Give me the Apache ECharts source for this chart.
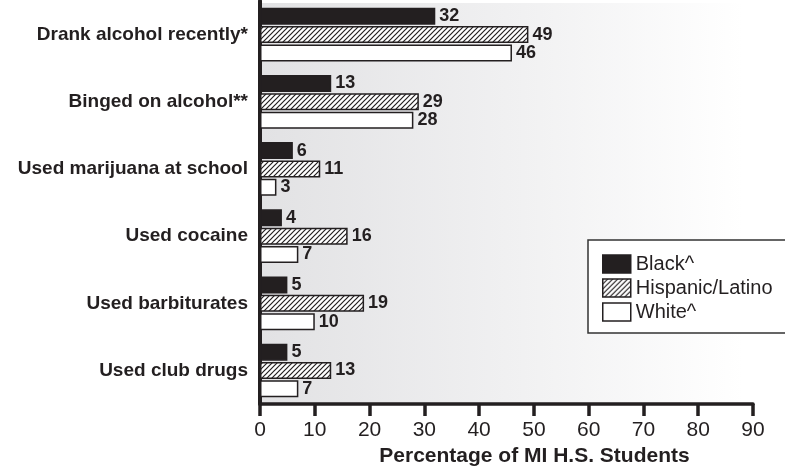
<!DOCTYPE html>
<html>
<head>
<meta charset="utf-8">
<script src="https://cdn.jsdelivr.net/npm/echarts@6/dist/echarts.min.js"></script>
<style>html,body{margin:0;padding:0;background:#fff}#c{width:785px;height:472px}</style>
</head>
<body>
<div id="c"></div>
<script>
const categories = ['Drank alcohol recently*', 'Binged on alcohol**', 'Used marijuana at school', 'Used cocaine', 'Used barbiturates', 'Used club drugs'];
const seriesNames = ['Black^', 'Hispanic/Latino', 'White^'];
const black = [32, 13, 6, 4, 5, 5];
const hispanic = [49, 29, 11, 16, 19, 13];
const white = [46, 28, 3, 7, 10, 7];
const xTicks = [0, 10, 20, 30, 40, 50, 60, 70, 80, 90];

const FONT = '"Liberation Sans", Arial, sans-serif';
const INK = '#231f20';

function hatch() {
  const s = 5;
  const c = document.createElement('canvas');
  c.width = s; c.height = s;
  const g = c.getContext('2d');
  g.fillStyle = '#fff';
  g.fillRect(0, 0, s, s);
  g.strokeStyle = '#231f20';
  g.lineWidth = 1.2;
  g.beginPath();
  g.moveTo(-1, s + 1); g.lineTo(s + 1, -1);
  g.moveTo(-1, 1); g.lineTo(1, -1);
  g.moveTo(s - 1, s + 1); g.lineTo(s + 1, s - 1);
  g.stroke();
  return c;
}

const chart = echarts.init(document.getElementById('c'), null, {renderer: 'canvas'});
const fills = [INK, {image: hatch(), repeat: 'repeat'}, '#ffffff'];
const values = [black, hispanic, white];

const labelStyle = {show: true, position: 'right', distance: 4, color: INK, fontFamily: FONT, fontWeight: 'bold', fontSize: 18};

chart.setOption({
  animation: false,
  backgroundColor: '#ffffff',
  graphic: [{
    type: 'rect', z: -10, left: 262, top: 3,
    shape: {width: 523, height: 402},
    style: {fill: new echarts.graphic.LinearGradient(0, 0, 1, 0, [
      {offset: 0, color: '#e2e2e4'},
      {offset: 0.5, color: '#f1f1f2'},
      {offset: 0.92, color: '#ffffff'},
      {offset: 1, color: '#ffffff'}
    ])}
  }],
  grid: {left: 260, width: 493, top: 1, height: 404},
  legend: {
    orient: 'vertical', left: 588, top: 240,
    padding: [14, 22, 11, 14],
    itemWidth: 28, itemHeight: 18, itemGap: 4, itemTextGap: 6,
    backgroundColor: '#ffffff',
    borderColor: '#333', borderWidth: 1.5,
    textStyle: {fontFamily: FONT, fontSize: 20, color: INK},
    itemStyle: {borderColor: INK, borderWidth: 1.5},
    data: seriesNames.map(n => ({name: n, icon: 'rect'}))
  },
  xAxis: {
    type: 'value', min: xTicks[0], max: xTicks[xTicks.length - 1], interval: 10,
    axisLine: {show: true, lineStyle: {color: INK, width: 3.5}},
    axisTick: {show: true, inside: false, length: 12, lineStyle: {color: INK, width: 3.5}},
    axisLabel: {margin: 16, fontFamily: FONT, fontSize: 21, color: INK},
    splitLine: {show: false},
    name: 'Percentage of MI H.S. Students',
    nameLocation: 'middle', nameGap: 40,
    nameTextStyle: {fontFamily: FONT, fontSize: 21, fontWeight: 'bold', color: INK, padding: [0, 0, 0, 56]}
  },
  yAxis: {
    type: 'category', data: categories, inverse: true,
    axisLine: {show: true, lineStyle: {color: INK, width: 4}},
    axisTick: {show: false},
    axisLabel: {margin: 12, fontFamily: FONT, fontSize: 19, fontWeight: 'bold', color: INK}
  },
  series: seriesNames.map((n, i) => ({
    name: n, type: 'bar', data: values[i],
    barWidth: 17, barGap: '8%',
    itemStyle: {color: fills[i], borderColor: INK, borderWidth: 1.5},
    label: labelStyle
  }))
});
</script>
</body>
</html>
